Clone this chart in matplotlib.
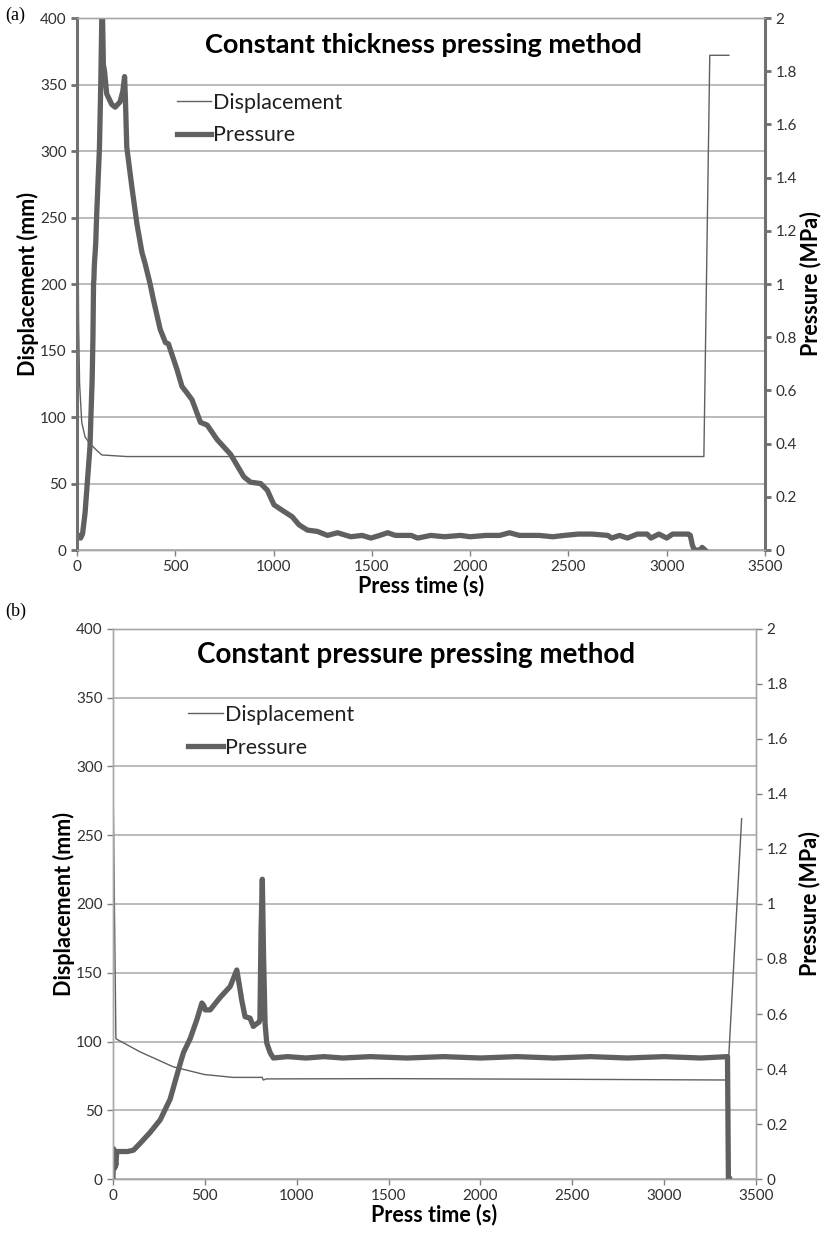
import matplotlib
matplotlib.use("Agg")
import matplotlib.pyplot as plt
from matplotlib.ticker import FuncFormatter, MultipleLocator

plt.rcParams['font.family'] = ['Lato', 'DejaVu Sans']

# ---- (a) constant thickness pressing ----
a_disp_t = [0, 4, 8, 13, 18, 24, 41, 66, 100, 126, 253, 1000, 2000, 3000, 3189, 3219, 3316]
a_disp_mm = [400, 260, 170, 125, 112, 96, 85, 80, 75, 71.5, 70.3, 70.3, 70.3, 70.3, 70.3, 372, 372]

a_pres_t = [0, 10, 18, 28, 41, 52, 60, 66, 71, 77, 81, 84, 86, 88, 95, 100, 114, 121, 126, 128,
            130, 134, 140, 151, 177, 194, 219, 233, 242, 246, 253, 279, 305, 330, 347, 372, 389,
            423, 450, 465, 474, 508, 534, 560, 585, 628, 662, 713, 781, 849, 883, 934, 968, 1002,
            1053, 1095, 1129, 1172, 1223, 1274, 1325, 1393, 1450, 1495, 1540, 1580, 1620, 1700,
            1733, 1800, 1870, 1950, 2000, 2080, 2150, 2200, 2250, 2350, 2420, 2480, 2550, 2620,
            2700, 2720, 2760, 2800, 2850, 2900, 2920, 2960, 3000, 3030, 3110, 3120, 3130, 3140,
            3170, 3180, 3195]
a_pres_mpa = [0.06, 0.05, 0.045, 0.06, 0.14, 0.25, 0.33, 0.39, 0.51, 0.64, 0.80, 1.0, 1.02, 1.07,
              1.15, 1.26, 1.51, 1.76, 2.0, 2.25, 2.0, 1.825, 1.80, 1.715, 1.675, 1.665, 1.685,
              1.725, 1.78, 1.70, 1.515, 1.365, 1.225, 1.12, 1.075, 1.0, 0.94, 0.83, 0.78, 0.775,
              0.755, 0.68, 0.615, 0.59, 0.565, 0.48, 0.47, 0.415, 0.36, 0.275, 0.255, 0.25,
              0.225, 0.17, 0.145, 0.125, 0.095, 0.075, 0.07, 0.055, 0.065, 0.05, 0.055, 0.045,
              0.055, 0.065, 0.055, 0.055, 0.045, 0.055, 0.05, 0.055, 0.05, 0.055, 0.055, 0.065,
              0.055, 0.055, 0.05, 0.055, 0.06, 0.06, 0.055, 0.045, 0.055, 0.045, 0.06, 0.06,
              0.045, 0.06, 0.045, 0.06, 0.06, 0.055, 0.02, 0.0, 0.0, 0.01, 0.0]

# ---- (b) constant pressure pressing ----
b_disp_t = [0, 16, 147, 328, 497, 654, 800, 812, 818, 836, 1500, 2500, 3345, 3422]
b_disp_mm = [295, 102, 92.5, 81.6, 76, 73.9, 73.9, 74, 72, 72.8, 73, 72.5, 72, 262]

b_pres_t = [0, 3, 7, 10, 13, 16, 20, 22, 40, 80, 112, 148, 203, 257, 311, 366, 384, 420, 457,
            484, 495, 502, 529, 583, 638, 674, 683, 701, 719, 746, 764, 783, 795, 800, 806, 813,
            820, 828, 837, 855, 873, 950, 1050, 1150, 1250, 1400, 1600, 1800, 2000, 2200, 2400,
            2600, 2800, 3000, 3200, 3345, 3350, 3356]
b_pres_mpa = [0.0, 0.11, 0.105, 0.04, 0.06, 0.05, 0.095, 0.1, 0.1, 0.1, 0.105, 0.13, 0.17, 0.215,
              0.29, 0.42, 0.46, 0.51, 0.58, 0.64, 0.63, 0.615, 0.615, 0.66, 0.70, 0.76, 0.725,
              0.65, 0.59, 0.585, 0.555, 0.565, 0.57, 0.58, 0.9, 1.09, 0.8, 0.565, 0.495, 0.46,
              0.44, 0.445, 0.44, 0.445, 0.44, 0.445, 0.44, 0.445, 0.44, 0.445, 0.44, 0.445, 0.44,
              0.445, 0.44, 0.445, 0.0, 0.0]

x_ticks = [0, 500, 1000, 1500, 2000, 2500, 3000, 3500]

LINE = '#606060'
GRID = '#a8a8a8'
TXT = '#303030'


def fmt_g(v, pos):
    return '%g' % round(v, 2)


def make_panel(fig, rect, t_d, d, t_p, p, title, title_xy, title_size, leg_xy, thick_spines, rpad):
    ax = fig.add_axes(rect)
    ax2 = ax.twinx()
    ax.plot(t_d, d, color=LINE, lw=1.0, label='Displacement')
    ax2.plot(t_p, p, color=LINE, lw=3.8, label='Pressure', solid_joinstyle='round')
    ax.set_xlim(0, 3500)
    ax.set_ylim(0, 400)
    ax2.set_ylim(0, 2)
    ax.set_xticks(x_ticks)
    ax.yaxis.set_major_locator(MultipleLocator(50))
    ax2.yaxis.set_major_locator(MultipleLocator(0.2))
    ax2.yaxis.set_major_formatter(FuncFormatter(fmt_g))
    ax.grid(axis='y', color=GRID, lw=1.1)
    ax.set_axisbelow(True)

    for a in (ax, ax2):
        a.tick_params(labelsize=11, labelcolor=TXT, color='#808080', length=4, width=1)
        for s in a.spines.values():
            s.set_color(GRID)
            s.set_linewidth(1.0)
    if thick_spines:
        ax2.spines['left'].set_color('#707070')
        ax2.spines['left'].set_linewidth(2.2)
        ax2.spines['right'].set_color('#707070')
        ax2.spines['right'].set_linewidth(2.2)
        ax.tick_params(axis='y', width=2, color='#707070')
        ax2.tick_params(axis='y', width=2, color='#707070')

    ax.set_xlabel('Press time (s)', fontsize=15.5, fontweight='bold', labelpad=0)
    ax.set_ylabel('Displacement (mm)', fontsize=15.5, fontweight='bold', labelpad=1)
    ax2.set_ylabel('Pressure (MPa)', fontsize=15.5, fontweight='bold', labelpad=rpad)

    ax.text(title_xy[0], title_xy[1], title, transform=ax.transAxes, ha='center', va='center',
            fontsize=title_size, fontweight='bold', color='black')

    h1, l1 = ax.get_legend_handles_labels()
    h2, l2 = ax2.get_legend_handles_labels()
    ax2.legend(h1 + h2, l1 + l2, loc='upper left', bbox_to_anchor=leg_xy, frameon=False,
               fontsize=15.5, handlelength=1.6, handletextpad=0.1, borderpad=0,
               borderaxespad=0, labelspacing=0.6, labelcolor='#202020')
    return ax, ax2


fig = plt.figure(figsize=(8.3, 12.45), dpi=100)

make_panel(fig, [0.0928, 0.5582, 0.8289, 0.4273], a_disp_t, a_disp_mm, a_pres_t, a_pres_mpa,
           'Constant thickness pressing method', (0.503, 0.949), 19.5, (0.145, 0.86), True, 2)
make_panel(fig, [0.1361, 0.0530, 0.7747, 0.4418], b_disp_t, b_disp_mm, b_pres_t, b_pres_mpa,
           'Constant pressure pressing method', (0.472, 0.953), 20, (0.117, 0.862), False, 8)

fig.text(0.006, 0.988, '(a)', family='Liberation Serif', fontsize=13, va='center', ha='left')
fig.text(0.006, 0.509, '(b)', family='Liberation Serif', fontsize=13, va='center', ha='left')

fig.savefig('out.png', dpi=100)
